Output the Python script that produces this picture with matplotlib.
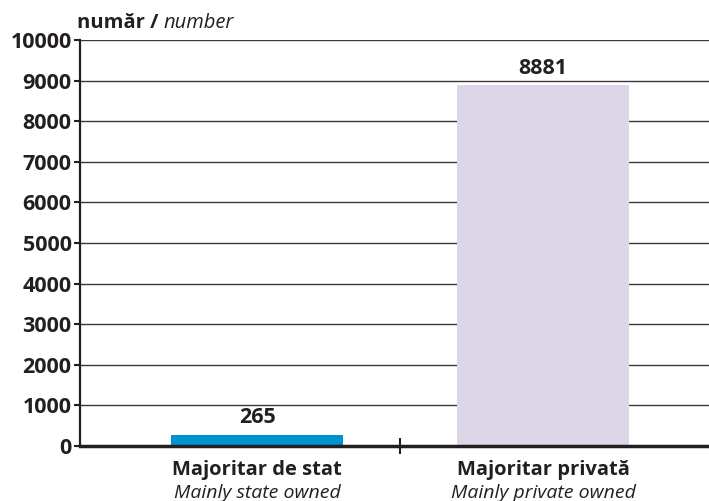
import matplotlib
matplotlib.use("Agg")
import matplotlib.pyplot as plt

categories_ro = ["Majoritar de stat", "Majoritar privată"]
categories_en = ["Mainly state owned", "Mainly private owned"]
values = [265, 8881]
colors = ["#0093D0", "#DDD5E8"]
yticks = [0, 1000, 2000, 3000, 4000, 5000, 6000, 7000, 8000, 9000, 10000]

plt.rcParams['font.family'] = ['Open Sans', 'DejaVu Sans']
dark = "#231F20"

fig = plt.figure(figsize=(7.09, 5.01), dpi=100)
ax = fig.add_axes([80/709, 1-446/501, 1-80/709, (446-40)/501])

x = [0, 1]
ax.bar(x, values, width=0.60, color=colors, zorder=3)
for xi, v in zip(x, values):
    ax.text(xi, v + 170, f"{v}", ha="center", va="bottom", fontsize=15.5,
            fontweight="bold", color=dark, zorder=4)

ax.set_xlim(-0.619, 1.580)
ax.set_ylim(0, 10000)
ax.set_yticks(yticks)
ax.set_yticklabels([str(t) for t in yticks], fontsize=15.5, fontweight="bold", color=dark)
ax.yaxis.grid(True, color="#3a3a3a", linewidth=1.0, zorder=1)
ax.set_axisbelow(True)

ax.set_xticks([0.5])
ax.set_xticklabels([""])
ax.tick_params(axis="x", direction="inout", length=12, width=1.5, color=dark)
ax.tick_params(axis="y", direction="out", length=4, width=1.5, color=dark, pad=2)

for s in ["top", "right"]:
    ax.spines[s].set_visible(False)
ax.spines["left"].set_linewidth(1.6)
ax.spines["left"].set_color(dark)
ax.spines["bottom"].set_linewidth(2.5)
ax.spines["bottom"].set_color(dark)
ax.spines["bottom"].set_zorder(5)

for xi, ro, en in zip(x, categories_ro, categories_en):
    ax.annotate(ro, xy=(xi, 0), xycoords=("data", "axes fraction"),
                xytext=(0, -10), textcoords="offset points",
                ha="center", va="top", fontsize=14.5, fontweight="bold", color=dark)
    ax.annotate(en, xy=(xi, 0), xycoords=("data", "axes fraction"),
                xytext=(0, -27), textcoords="offset points",
                ha="center", va="top", fontsize=14, fontstyle="italic", color=dark)

t1 = fig.text(77/709, 1-28/501, "număr / ", fontsize=14.5, fontweight="bold",
              color=dark, va="baseline")
fig.canvas.draw()
bb = t1.get_window_extent()
fig.text(bb.x1 / fig.bbox.width, 1-28/501, "number", fontsize=14.5,
         fontstyle="italic", color=dark, va="baseline")

fig.savefig("out.png", dpi=100)
